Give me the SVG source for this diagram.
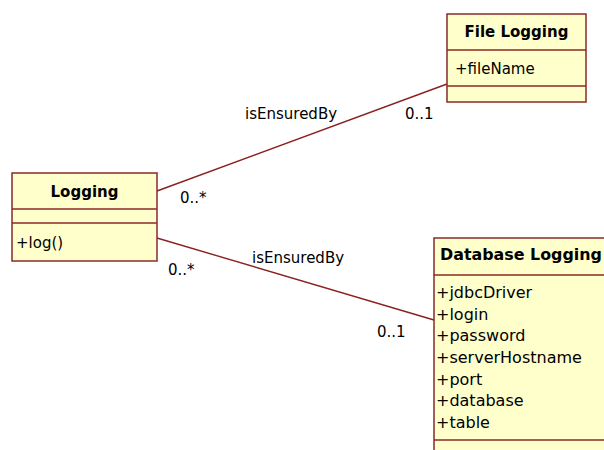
<svg xmlns="http://www.w3.org/2000/svg" width="604" height="450" viewBox="0 0 604 450">
<style>
.box{fill:#ffffcc;stroke:#8b2a2a;stroke-width:1.5}
.sep{stroke:#8b2a2a;stroke-width:1.5}
.t{font-family:"DejaVu Sans",Verdana,sans-serif;font-size:15px;fill:#000}
.d{font-size:16px}
.b{font-weight:bold}
.c{stroke:#8b2020;stroke-width:1.4;fill:none}
</style>
<rect width="604" height="450" fill="#fff"/>
<g id="connectors">
<line class="c" x1="157" y1="191" x2="447" y2="84"/>
<line class="c" x1="157" y1="238" x2="434" y2="320"/>
<text class="t" x="245" y="119">isEnsuredBy</text>
<text class="t" x="405" y="119">0..1</text>
<text class="t" x="180" y="203">0..*</text>
<text class="t" x="252" y="263">isEnsuredBy</text>
<text class="t" x="168" y="275">0..*</text>
<text class="t" x="377" y="337">0..1</text>
</g>
<g id="file-logging">
<rect class="box" x="447" y="14" width="139" height="88"/>
<line class="sep" x1="447" y1="50" x2="586" y2="50"/>
<line class="sep" x1="447" y1="86" x2="586" y2="86"/>
<text class="t b" x="516.5" y="37" text-anchor="middle">File Logging</text>
<text class="t" x="455" y="74">+fileName</text>
</g>
<g id="logging">
<rect class="box" x="12" y="173" width="145" height="88"/>
<line class="sep" x1="12" y1="209" x2="157" y2="209"/>
<line class="sep" x1="12" y1="223" x2="157" y2="223"/>
<text class="t b" x="84.5" y="197" text-anchor="middle">Logging</text>
<text class="t" x="16" y="248">+log()</text>
</g>
<g id="database-logging">
<rect class="box" x="434" y="238" width="200" height="230"/>
<line class="sep" x1="434" y1="275" x2="634" y2="275"/>
<line class="sep" x1="434" y1="440" x2="634" y2="440"/>
<text class="t b" x="440" y="260" textLength="162" lengthAdjust="spacingAndGlyphs">Database Logging</text>
<text class="t d" x="436" y="298">+jdbcDriver</text>
<text class="t d" x="436" y="320">+login</text>
<text class="t d" x="436" y="341">+password</text>
<text class="t d" x="436" y="363">+serverHostname</text>
<text class="t d" x="436" y="385">+port</text>
<text class="t d" x="436" y="406">+database</text>
<text class="t d" x="436" y="428">+table</text>
</g>
</svg>
